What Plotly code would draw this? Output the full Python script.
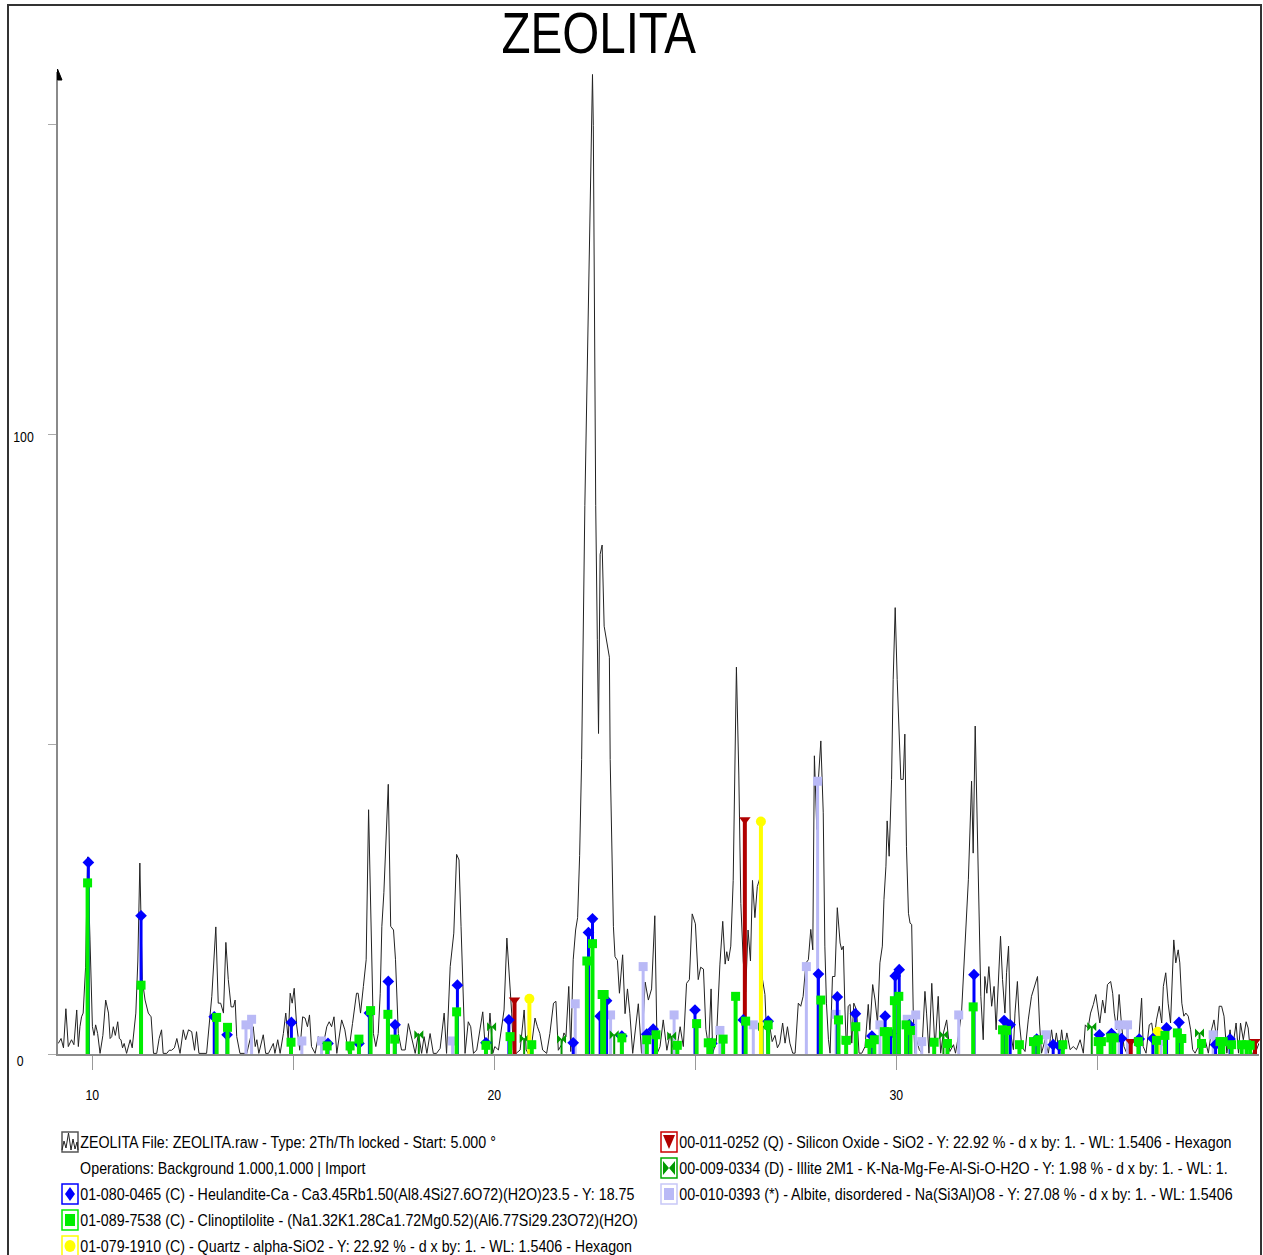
import plotly.graph_objects as go

# ---------------- data ----------------
two_theta = [9.16, 9.23, 9.29, 9.35, 9.41, 9.49, 9.55, 9.62, 9.66, 9.70, 9.74, 9.78, 9.84, 9.89, 9.95,
             10.01, 10.05, 10.09, 10.14, 10.20, 10.27, 10.34, 10.41, 10.45, 10.49, 10.53, 10.58, 10.64,
             10.68, 10.72, 10.76, 10.80, 10.86, 10.90, 10.95, 11.00, 11.03, 11.09, 11.14, 11.19, 11.25,
             11.32, 11.40, 11.47, 11.53, 11.61, 11.67, 11.73, 11.77, 11.86, 11.92, 11.98, 12.05, 12.11,
             12.19, 12.27, 12.33, 12.40, 12.48, 12.55, 12.60, 12.66, 12.85, 12.89, 12.98, 13.08, 13.14,
             13.20, 13.27, 13.33, 13.39, 13.46, 13.52, 13.56, 13.60, 13.68, 13.85, 13.93, 14.01, 14.06,
             14.10, 14.15, 14.21, 14.26, 14.32, 14.39, 14.45, 14.51, 14.55, 14.62, 14.68, 14.76, 14.82,
             14.88, 14.93, 14.98, 15.03, 15.09, 15.17, 15.24, 15.30, 15.36, 15.41, 15.46, 15.55, 15.63,
             15.71, 15.77, 15.84, 15.90, 15.96, 16.02, 16.09, 16.21, 16.29, 16.38, 16.48, 16.58, 16.62,
             16.68, 16.75, 16.82, 16.88, 16.94, 17.00, 17.06, 17.12, 17.17, 17.21, 17.26, 17.37, 17.43,
             17.50, 17.55, 17.62, 17.70, 17.79, 17.87, 17.95, 18.04, 18.12, 18.20, 18.26, 18.33, 18.41,
             18.49, 18.57, 18.66, 18.76, 18.82, 18.91, 19.00, 19.07, 19.13, 19.18, 19.24, 19.28, 19.36,
             19.42, 19.49, 19.57, 19.72, 19.78, 19.83, 19.90, 19.97, 20.02, 20.11, 20.19, 20.25, 20.32,
             20.38, 20.44, 20.48, 20.55, 20.65, 20.75, 20.80, 20.85, 20.94, 21.02, 21.08, 21.14, 21.21,
             21.31, 21.39, 21.48, 21.54, 21.60, 21.68, 21.74, 21.79, 21.86, 21.91, 21.97, 22.03, 22.08,
             22.13, 22.18, 22.26, 22.35, 22.45, 22.47, 22.50, 22.53, 22.57, 22.60, 22.64, 22.69, 22.74,
             22.87, 22.89, 22.93, 22.97, 23.01, 23.07, 23.12, 23.20, 23.26, 23.32, 23.38, 23.45, 23.59,
             23.67, 23.76, 23.84, 23.92, 24.00, 24.06, 24.13, 24.21, 24.30, 24.38, 24.44, 24.50, 24.56,
             24.63, 24.71, 24.79, 24.86, 24.93, 25.01, 25.08, 25.14, 25.21, 25.27, 25.34, 25.40, 25.44,
             25.53, 25.62, 25.69, 25.75, 25.79, 25.83, 25.89, 25.95, 26.03, 26.09, 26.14, 26.20, 26.26,
             26.32, 26.38, 26.43, 26.49, 26.55, 26.62, 26.68, 26.74, 26.80, 26.86, 26.92, 26.99, 27.05,
             27.11, 27.18, 27.24, 27.30, 27.36, 27.43, 27.49, 27.57, 27.63, 27.69, 27.76, 27.82, 27.88,
             27.93, 27.97, 28.03, 28.07, 28.13, 28.19, 28.23, 28.27, 28.32, 28.36, 28.42, 28.48, 28.54,
             28.61, 28.65, 28.69, 28.73, 28.77, 28.81, 28.86, 28.90, 28.95, 29.02, 29.08, 29.15, 29.23,
             29.31, 29.35, 29.42, 29.48, 29.54, 29.60, 29.66, 29.70, 29.75, 29.78, 29.83, 29.89, 29.93,
             29.98, 30.03, 30.08, 30.12, 30.18, 30.22, 30.26, 30.31, 30.35, 30.39, 30.43, 30.47, 30.51,
             30.58, 30.64, 30.72, 30.76, 30.82, 30.89, 30.93, 30.97, 31.05, 31.11, 31.18, 31.26, 31.34,
             31.43, 31.48, 31.55, 31.63, 31.72, 31.80, 31.88, 31.92, 31.97, 32.01, 32.06, 32.11, 32.17,
             32.21, 32.26, 32.31, 32.38, 32.44, 32.49, 32.55, 32.60, 32.65, 32.71, 32.75, 32.80, 32.85,
             32.92, 32.96, 33.02, 33.07, 33.13, 33.21, 33.29, 33.37, 33.46, 33.52, 33.57, 33.62, 33.71,
             33.79, 33.87, 33.93, 33.99, 34.06, 34.12, 34.18, 34.25, 34.33, 34.41, 34.49, 34.58, 34.66,
             34.71, 34.78, 34.84, 34.91, 34.97, 35.02, 35.07, 35.14, 35.20, 35.26, 35.34, 35.39, 35.43,
             35.49, 35.55, 35.61, 35.67, 35.74, 35.82, 35.89, 35.97, 36.03, 36.11, 36.15, 36.22, 36.30,
             36.36, 36.42, 36.48, 36.55, 36.61, 36.65, 36.71, 36.77, 36.83, 36.91, 36.96, 37.02, 37.06,
             37.11, 37.16, 37.21, 37.27, 37.33, 37.38, 37.44, 37.52, 37.60, 37.69, 37.77, 37.85, 37.91,
             37.98, 38.04, 38.10, 38.16, 38.23, 38.31, 38.37, 38.46, 38.52, 38.57, 38.64, 38.71, 38.76,
             38.82, 38.89, 38.97, 39.03]
intensity = [1.7, 2.5, 1.0, 7.3, 1.2, 2.3, 1.5, 7.1, 1.2, 4.4, 6.0, 6.6, 14.0, 31.8, 18.4,
             4.4, 3.0, 4.7, 3.3, 0.1, 3.0, 8.7, 6.6, 2.5, 2.8, 4.4, 3.0, 5.2,
             2.5, 2.3, 1.0, 1.7, 0.1, 1.0, 2.3, 1.0, 3.3, 6.6, 15.0, 30.8, 12.0,
             8.7, 6.6, 6.0, 0.1, 0.1, 2.5, 3.9, 0.1, 0.1, 0.6, 0.6, 1.0, 2.5,
             0.1, 3.9, 2.3, 3.9, 3.6, 0.6, 3.6, 0.1, 0.1, 2.8, 9.3, 20.5, 8.2,
             8.2, 6.6, 18.0, 12.0, 7.6, 7.6, 8.7, 2.8, 0.1, 0.1, 2.3, 4.4, 1.2,
             2.3, 0.1, 1.5, 3.1, 0.1, 0.1, 0.9, 1.7, 0.1, 2.3, 0.1, 3.3, 6.6,
             2.3, 9.8, 8.2, 10.6, 4.7, 0.6, 6.0, 5.8, 4.4, 6.3, 1.2, 0.1, 2.8,
             1.2, 2.0, 4.4, 5.2, 4.4, 6.0, 0.1, 5.5, 3.9, 0.1, 4.9, 9.8, 9.8,
             6.6, 10.9, 15.2, 39.4, 20.6, 3.3, 1.2, 3.3, 9.8, 20.6, 26.0, 43.5, 20.6,
             20.0, 15.2, 3.3, 0.65, 0.65, 4.9, 2.8, 0.1, 3.3, 0.1, 2.8, 0.1, 3.3,
             0.1, 0.1, 0.9, 6.6, 0.1, 14.1, 19.5, 32.2, 31.3, 20.6, 6.6, 0.1, 5.2,
             4.4, 0.1, 0.65, 6.8, 1.2, 0.1, 6.6, 0.1, 1.2, 0.65, 4.4, 7.1, 18.7,
             13.0, 6.6, 0.65, 0.1, 0.65, 7.1, 0.65, 0.1, 1.7, 5.8, 4.4, 3.3, 0.65,
             0.1, 3.3, 8.2, 8.5, 0.6, 1.5, 3.4, 2.8, 10.9, 0.4, 15.2, 20.0, 22.0,
             32.0, 47.5, 88.5, 124.6, 158.0, 149.8, 117.3, 88.5, 66.9, 51.7, 80.6, 82.1, 69.0,
             64.0, 47.5, 34.7, 20.6, 15.7, 15.1, 9.8, 16.0, 6.5, 10.5, 6.5, 0.1, 8.1,
             0.1, 11.6, 8.7, 10.5, 22.3, 0.1, 1.2, 5.5, 0.6, 3.3, 1.2, 0.6, 1.4,
             4.4, 1.2, 11.4, 12.0, 22.6, 21.0, 12.0, 14.0, 13.7, 4.0, 1.0, 10.5, 0.1,
             2.0, 14.5, 21.4, 14.5, 16.5, 15.0, 17.4, 28.0, 62.4, 45.0, 24.3, 15.0, 10.0,
             20.0, 15.0, 28.0, 22.0, 27.0, 28.5, 12.0, 9.6, 0.1, 4.5, 2.0, 3.0, 1.0,
             1.75, 5.0, 1.75, 4.4, 1.75, 0.13, 0.13, 8.2, 7.7, 9.3, 14.7, 15.2, 20.1,
             16.8, 48.1, 36.2, 44.3, 50.5, 38.9, 17.4, 8.2, 2.3, 0.13, 12.5, 12.5, 23.6,
             17.9, 16.8, 17.4, 7.1, 0.13, 7.7, 8.0, 1.75, 8.2, 7.1, 0.13, 0.13, 1.2,
             8.0, 3.9, 11.2, 8.7, 5.0, 14.7, 17.4, 24.9, 30.3, 37.6, 31.9, 44.3, 60.4,
             72.0, 60.4, 50.8, 44.3, 44.3, 51.6, 33.5, 22.7, 21.1, 20.9, 6.6, 0.13, 2.3,
             0.7, 0.13, 10.1, 6.6, 0.13, 11.4, 6.6, 0.7, 9.3, 0.13, 3.4, 5.5, 0.4,
             1.5, 0.13, 2.8, 6.6, 17.4, 28.1, 44.0, 32.4, 52.9, 38.9, 22.7, 9.3, 2.3,
             12.5, 9.8, 14.1, 7.7, 10.9, 3.9, 12.0, 19.0, 12.0, 6.6, 13.1, 17.4, 3.4,
             0.7, 6.6, 11.7, 5.0, 1.2, 0.4, 5.5, 9.3, 11.2, 12.5, 5.0, 0.13, 2.3,
             0.13, 3.9, 0.7, 3.4, 0.13, 3.9, 0.7, 3.4, 0.7, 1.2, 0.7, 2.3, 0.13,
             4.7, 4.2, 6.6, 8.0, 9.6, 7.1, 5.0, 8.7, 6.6, 11.2, 11.7, 9.8, 6.6,
             3.9, 9.6, 4.7, 1.2, 0.13, 1.2, 2.3, 1.2, 1.5, 9.0, 1.2, 0.13, 4.7,
             5.0, 2.3, 5.5, 7.7, 5.0, 10.9, 13.1, 8.2, 5.0, 18.4, 14.7, 16.8, 14.7,
             8.2, 6.1, 6.6, 6.1, 3.9, 0.7, 0.13, 1.2, 1.2, 2.3, 0.13, 3.9, 5.5,
             2.3, 7.7, 7.7, 6.1, 0.13, 3.9, 0.7, 5.0, 0.13, 5.0, 2.3, 5.2, 4.2,
             0.13, 0.13, 0.7, 1.75]

# Heulandite-Ca (blue diamonds)
heul_pos = [9.91, 11.22, 13.04, 13.36, 14.96, 15.87, 16.64, 16.90, 17.37, 17.54, 19.09, 19.80, 20.37,
            21.97, 22.35, 22.45, 22.64, 22.80, 23.18, 23.80, 23.96, 25.00, 25.42, 26.20, 26.82, 28.07,
            28.54, 28.99, 29.40, 29.73, 29.87, 29.98, 30.08, 30.33, 31.94, 32.69, 32.84, 33.50, 33.91,
            34.06, 35.06, 35.36, 35.61, 36.05, 36.39, 36.73, 37.04, 37.95, 38.31]
heul_int = [30.9, 22.3, 6.0, 3.1, 5.1, 1.7, 1.7, 6.6, 11.7, 4.7, 11.1, 1.8, 5.5,
            1.8, 19.6, 21.8, 6.1, 8.6, 2.9, 3.2, 4.0, 7.1, 1.7, 5.5, 5.3, 12.9,
            9.2, 6.5, 2.9, 6.1, 3.3, 12.6, 13.6, 4.7, 12.8, 5.4, 4.7, 2.4, 1.5,
            1.3, 3.1, 3.3, 2.5, 2.4, 2.5, 4.2, 5.1, 1.5, 2.4]

# Clinoptilolite (green squares)
clino_pos = [9.89, 11.22, 13.10, 13.37, 14.95, 15.85, 16.42, 16.64, 16.93, 17.36, 17.53, 19.07, 19.80,
             20.40, 20.94, 22.31, 22.45, 22.69, 22.74, 23.18, 23.80, 24.03, 24.56, 25.04, 25.33, 25.41,
             25.70, 26.01, 26.26, 26.82, 28.13, 28.57, 28.76, 29.00, 29.34, 29.46, 29.71, 29.80, 29.96,
             30.07, 30.25, 30.36, 30.95, 31.28, 31.92, 32.65, 32.75, 33.07, 33.42, 33.54, 34.15, 35.03,
             35.11, 35.34, 35.43, 36.03, 36.48, 36.69, 37.00, 37.11, 37.60, 38.06, 38.14, 38.35, 38.60,
             38.72, 38.81]
clino_int = [27.6, 11.1, 5.9, 4.3, 1.9, 1.3, 1.3, 2.4, 7.0, 6.4, 2.4, 6.8, 1.4,
             2.8, 1.5, 15.0, 17.8, 9.6, 9.6, 2.6, 2.3, 3.1, 1.4, 4.9, 1.8, 1.8,
             2.4, 9.3, 5.3, 4.7, 8.7, 5.5, 2.2, 4.4, 1.7, 2.3, 3.6, 3.6, 8.6,
             9.3, 4.7, 3.8, 1.9, 1.7, 7.6, 3.9, 3.8, 1.5, 2.0, 2.3, 1.5, 2.0,
             2.0, 2.6, 2.6, 2.0, 2.2, 3.0, 3.4, 2.5, 1.7, 2.0, 2.0, 1.5, 1.5,
             1.5, 1.4]

# Quartz (yellow circles)
quartz_pos = [20.88, 26.64, 36.51]
quartz_int = [8.9, 37.5, 3.6]

# Silicon Oxide (dark red triangles)
sio2_pos = [20.51, 26.24, 35.84, 38.93]
sio2_int = [8.7, 37.8, 2.0, 2.0]

# Illite 2M1 (green bowties)
illite_pos = [18.13, 19.94, 20.75, 21.68, 22.99, 24.42, 26.68, 28.76, 31.18, 34.87, 37.55]
illite_int = [3.1, 4.4, 2.5, 2.4, 3.1, 2.9, 4.4, 2.3, 3.1, 4.4, 3.4]

# Albite, disordered (lavender squares)
albite_pos = [13.83, 13.97, 15.22, 15.71, 18.97, 22.02, 22.90, 23.71, 24.48, 25.62, 26.45, 27.77,
              28.05, 28.51, 29.60, 30.28, 30.49, 30.64, 31.56, 33.73, 35.55, 35.76, 36.59, 37.89]
albite_int = [4.7, 5.6, 2.1, 2.1, 2.1, 8.1, 6.3, 14.1, 6.3, 3.8, 4.7, 14.1,
              44.0, 6.4, 4.7, 5.6, 6.3, 2.0, 6.3, 3.1, 4.7, 4.7, 2.0, 3.1]

x_tick_vals = [10, 15, 20, 25, 30, 35]
x_label_vals = [10, 20, 30]
x_label_text = ["10", "20", "30"]
y_tick_vals = [0, 50, 100, 150]
y_label_vals = [0, 100]
y_label_text = ["0", "100"]

title_text = "ZEOLITA"
legend_left = [
    "ZEOLITA File: ZEOLITA.raw - Type: 2Th/Th locked - Start: 5.000 °",
    "Operations: Background 1.000,1.000 | Import",
    "01-080-0465 (C) - Heulandite-Ca - Ca3.45Rb1.50(Al8.4Si27.6O72)(H2O)23.5 - Y: 18.75",
    "01-089-7538 (C) - Clinoptilolite - (Na1.32K1.28Ca1.72Mg0.52)(Al6.77Si29.23O72)(H2O)",
    "01-079-1910 (C) - Quartz - alpha-SiO2 - Y: 22.92 % - d x by: 1. - WL: 1.5406 - Hexagon",
]
legend_right = [
    "00-011-0252 (Q) - Silicon Oxide - SiO2 - Y: 22.92 % - d x by: 1. - WL: 1.5406 - Hexagon",
    "00-009-0334 (D) - Illite 2M1 - K-Na-Mg-Fe-Al-Si-O-H2O - Y: 1.98 % - d x by: 1. - WL: 1.",
    "00-010-0393 (*) - Albite, disordered - Na(Si3Al)O8 - Y: 27.08 % - d x by: 1. - WL: 1.5406",
]

# ---------------- layout constants ----------------
W, H = 1263, 1255
ML, MR, MT, MB = 58, 4, 72, 201
X_RANGE = [9.154, 39.03]
Y_RANGE = [0, 158.4]
FONT = "Liberation Sans Narrow, Arial Narrow, Liberation Sans, Arial, sans-serif"

PW = W - ML - MR
PH = H - MT - MB


def px(xp):
    return (xp - ML) / PW


def py(yp):
    return (H - MB - yp) / PH


def poly(points):
    return "M " + " L ".join(f"{px(a):.5f},{py(b):.5f}" for a, b in points) + " Z"


def sticks(pos, hts):
    xs, ys = [], []
    for p, h in zip(pos, hts):
        xs += [p, p, None]
        ys += [0, h, None]
    return xs, ys


fig = go.Figure()

fig.add_trace(go.Scatter(x=two_theta, y=intensity, mode="lines",
                         line=dict(color="#222222", width=1), hoverinfo="skip"))

phases = [
    (albite_pos, albite_int, "#b9b9f6", "square", 9, 3),
    (illite_pos, illite_int, "#009a00", "bowtie", 9, 2),
    (sio2_pos, sio2_int, "#b00000", "triangle-down", 10, 4),
    (quartz_pos, quartz_int, "#ffff00", "circle", 10, 4),
    (heul_pos, heul_int, "#0000ff", "diamond", 9, 3),
    (clino_pos, clino_int, "#00ee00", "square", 9, 4),
]
for pos, hts, col, sym, msz, lw in phases:
    sx, sy = sticks(pos, hts)
    fig.add_trace(go.Scatter(x=sx, y=sy, mode="lines", line=dict(color=col, width=lw),
                             hoverinfo="skip"))
    fig.add_trace(go.Scatter(x=pos, y=hts, mode="markers", cliponaxis=False,
                             marker=dict(color=col, symbol=sym, size=msz, line=dict(width=0)),
                             hoverinfo="skip"))

shapes = []
# outer frame
shapes.append(dict(type="rect", xref="paper", yref="paper", x0=px(8), x1=px(1261), y0=py(1262), y1=py(5),
                   line=dict(color="#333333", width=2), layer="below"))
# arrow on the y axis
shapes.append(dict(type="path", xref="paper", yref="paper",
                   path=poly([(57.5, 69), (62, 80), (57.5, 80)]),
                   fillcolor="black", line=dict(color="black", width=1)))
# legend boxes
box_cols = [(70, 1142, "#555555"), (70, 1194, "#0000ff"), (70, 1220, "#00ee00"), (70, 1246, "#ffff00"),
            (669, 1142, "#cc0000"), (669, 1168, "#00aa00"), (669, 1194, "#c8c8f8")]
for cx, cy, col in box_cols:
    shapes.append(dict(type="rect", xref="paper", yref="paper", x0=px(cx - 8), x1=px(cx + 8),
                       y0=py(cy + 10), y1=py(cy - 10), line=dict(color=col, width=1.5)))


def add_sym(cx, cy, kind, col):
    if kind == "diamond":
        path = poly([(cx, cy - 7), (cx + 5, cy), (cx, cy + 7), (cx - 5, cy)])
    elif kind == "square":
        path = poly([(cx - 5, cy - 6), (cx + 5, cy - 6), (cx + 5, cy + 6), (cx - 5, cy + 6)])
    elif kind == "triangle":
        path = poly([(cx - 6, cy - 7), (cx + 6, cy - 7), (cx, cy + 7)])
    elif kind == "bowtie":
        path = poly([(cx - 6, cy - 7), (cx, cy), (cx - 6, cy + 7)]) + " " + \
               poly([(cx + 6, cy - 7), (cx, cy), (cx + 6, cy + 7)])
    else:
        shapes.append(dict(type="circle", xref="paper", yref="paper", x0=px(cx - 5.5), x1=px(cx + 5.5),
                           y0=py(cy + 6), y1=py(cy - 6), fillcolor=col, line=dict(width=0)))
        return
    shapes.append(dict(type="path", xref="paper", yref="paper", path=path,
                       fillcolor=col, line=dict(width=0)))


add_sym(70, 1194, "diamond", "#0000ff")
add_sym(70, 1220, "square", "#00ee00")
add_sym(70, 1246, "circle", "#ffff00")
add_sym(669, 1142, "triangle", "#b00000")
add_sym(669, 1168, "bowtie", "#009a00")
add_sym(669, 1194, "square", "#b9b9f6")

# zigzag in the pattern legend icon
zz = [(62, 1150), (64, 1141), (66, 1148), (68.5, 1133), (71, 1150), (73, 1139), (75, 1149), (77, 1142), (78, 1150)]
path = "M " + " L ".join(f"{px(a)},{py(b)}" for a, b in zz)
shapes.append(dict(type="path", xref="paper", yref="paper", path=path,
                   line=dict(color="#222222", width=1)))

annotations = []
# 0: title
annotations.append(dict(text=title_text, xref="paper", yref="paper", x=px(599), y=py(33),
                        xanchor="center", yanchor="middle", showarrow=False,
                        font=dict(family=FONT, size=58, color="black")))
# 1-2: y labels (positioned on the y data scale, set left of the axis)
for v, txt, dx, dy in zip(y_label_vals, y_label_text, [-38, -35], [-6, -2]):
    annotations.append(dict(text=txt, xref="paper", yref="y", x=0, y=v, xshift=dx, yshift=dy,
                            xanchor="center", yanchor="middle", showarrow=False,
                            font=dict(family=FONT, size=15, color="black")))
# 3-5: x labels
for v, txt in zip(x_label_vals, x_label_text):
    annotations.append(dict(text=txt, xref="x", yref="paper", x=v, y=0, yshift=-40,
                            xanchor="center", yanchor="middle", showarrow=False,
                            font=dict(family=FONT, size=15, color="black")))
# 6+: legend lines
for i, txt in enumerate(legend_left):
    annotations.append(dict(text=txt, xref="paper", yref="paper", x=px(78), y=py(1142 + 26 * i),
                            xanchor="left", yanchor="middle", showarrow=False,
                            font=dict(family=FONT, size=17, color="black")))
for i, txt in enumerate(legend_right):
    annotations.append(dict(text=txt, xref="paper", yref="paper", x=px(677), y=py(1142 + 26 * i),
                            xanchor="left", yanchor="middle", showarrow=False,
                            font=dict(family=FONT, size=17, color="black")))

fig.update_layout(
    width=W, height=H,
    margin=dict(l=ML, r=MR, t=MT, b=MB, pad=0),
    paper_bgcolor="white", plot_bgcolor="white",
    showlegend=False,
    shapes=shapes, annotations=annotations,
    xaxis=dict(range=X_RANGE, showgrid=False, zeroline=False, showline=True, linecolor="#8a8a8a",
               linewidth=2, ticks="outside", ticklen=14, tickwidth=1, tickcolor="#999999",
               tickvals=x_tick_vals, showticklabels=False),
    yaxis=dict(range=Y_RANGE, showgrid=False, zeroline=False, showline=True, linecolor="#8a8a8a",
               linewidth=1.5, ticks="outside", ticklen=8, tickwidth=1, tickcolor="#aaaaaa",
               tickvals=y_tick_vals, showticklabels=False),
)

# the original uses a condensed face; narrow the rendered text horizontally
post_js = """
document.body.style.margin='0px';
document.body.style.overflow='hidden';
var gd = document.querySelector('.plotly-graph-div');
function squeeze(){
  gd.querySelectorAll('g.annotation').forEach(function(g){
    var idx = parseInt(g.getAttribute('data-index'));
    var t = g.querySelector('text.annotation-text');
    if(!t) return;
    t.style.transformBox = 'fill-box';
    t.style.transformOrigin = (idx >= 6 ? 'left' : 'center') + ' center';
    t.style.transform = 'scaleX(' + (idx >= 6 ? 0.84 : 0.82) + ')';
  });
}
squeeze();
gd.on('plotly_afterplot', squeeze);
"""

fig.write_html("out.html", config={"displayModeBar": False}, post_script=post_js)
